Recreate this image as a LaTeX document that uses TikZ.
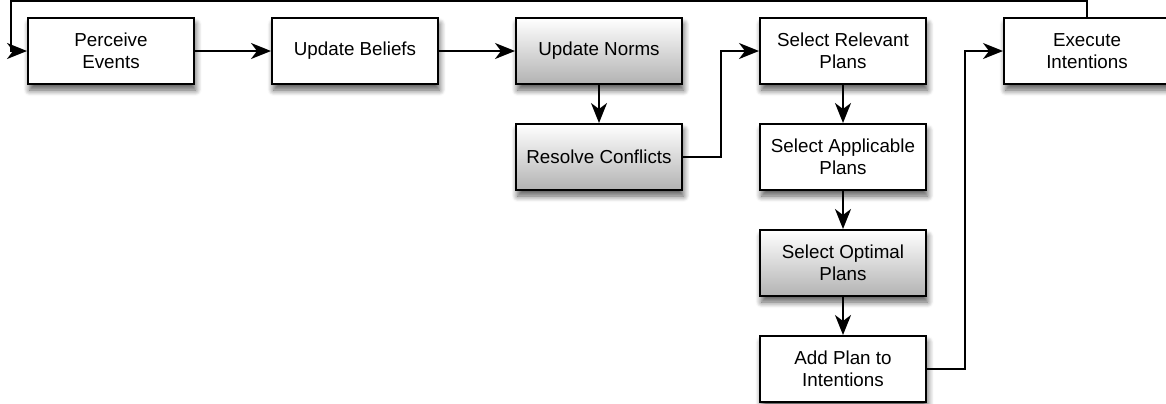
\documentclass[tikz,border=0pt]{standalone}
\usepackage{fontspec}
\setmainfont{Liberation Sans}
\usepackage{tikz}
\usetikzlibrary{arrows.meta}
\usetikzlibrary{positioning}
\usetikzlibrary{shadows}
\usetikzlibrary{shadows.blur}

\begin{document}
\begin{tikzpicture}[
    node distance=19pt and 38pt,
    stage/.style={draw, line width=1pt, fill=white, align=center,
      minimum width=83pt, minimum height=33pt, inner sep=2pt,
      font=\fontsize{9.4}{11}\selectfont,
      blur shadow={shadow blur steps=8, shadow blur radius=3pt,
        shadow xshift=0.8pt, shadow yshift=-3pt, shadow opacity=65}},
    normstage/.style={stage, top color=white, bottom color=black!30},
    flow/.style={line width=1pt, -{Stealth[length=10pt,width=8pt,inset=3pt]}}
  ]
  \useasboundingbox (0,0) rectangle (583pt,-201.5pt);

  \node [stage] (perceive) at (55.5pt,-25.5pt) {Perceive\\Events};
  \node [stage, right=of perceive] (beliefs) {Update Beliefs};
  \node [normstage, right=of beliefs] (norms) {Update Norms};
  \node [normstage, below=of norms] (resolve) {Resolve Conflicts};
  \node [stage, right=of norms] (relevant) {Select Relevant\\Plans};
  \node [stage, below=of relevant] (applicable) {Select Applicable\\Plans};
  \node [normstage, below=of applicable] (optimal) {Select Optimal\\Plans};
  \node [stage, below=of optimal] (addplan) {Add Plan to\\Intentions};
  \node [stage, right=of relevant] (execute) {Execute\\Intentions};

  \draw [flow] (perceive) -- (beliefs);
  \draw [flow] (beliefs) -- (norms);
  \draw [flow] (norms) -- (resolve);
  \draw [flow] (resolve.east) -- ++(19pt,0) |- (relevant.west);
  \draw [flow] (relevant) -- (applicable);
  \draw [flow] (applicable) -- (optimal);
  \draw [flow] (optimal) -- (addplan);
  \draw [flow] (addplan.east) -- ++(19pt,0) |- (execute.west);
  \draw [flow] (execute.north) -- ++(0,8pt) -| ([xshift=-8pt]perceive.west)
    -- (perceive.west);
\end{tikzpicture}
\end{document}
